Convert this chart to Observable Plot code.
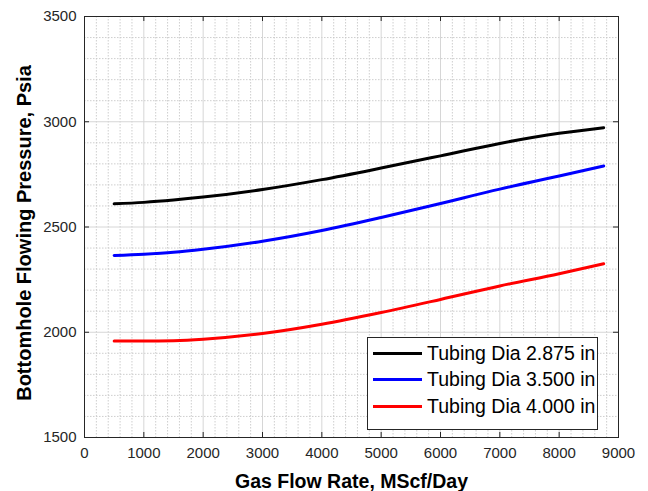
<!DOCTYPE html>
<html>
<head>
<meta charset="utf-8">
<script src="https://cdn.jsdelivr.net/npm/d3@7"></script>
<script src="https://cdn.jsdelivr.net/npm/@observablehq/plot@0.6"></script>
<style>
  body { margin: 0; background: #fff; }
  #wrap { position: relative; width: 648px; height: 491px; font-family: "Liberation Sans", Arial, sans-serif; }
  #legend { position: absolute; left: 367px; top: 337px; width: 231px; height: 93px; border: 1px solid #262626; background: #fff; box-sizing: border-box; }
  .item { position: absolute; left: 5px; height: 22px; display: flex; align-items: center; font-size: 19.5px; color: #000; white-space: nowrap; }
  .sw { width: 49px; height: 3px; margin-right: 5px; }
</style>
</head>
<body>
<div id="wrap"></div>
<script>
const seriesNames = ["Tubing Dia 2.875 in", "Tubing Dia 3.500 in", "Tubing Dia 4.000 in"];
const seriesColors = ["#000000", "#0000ff", "#ff0000"];
const flow = [500, 1000, 1500, 2000, 3000, 4000, 5000, 6000, 7000, 8000, 8750];
const p2875 = [2610, 2617, 2628, 2642, 2678, 2725, 2780, 2838, 2897, 2945, 2972];
const p3500 = [2365, 2371, 2380, 2394, 2432, 2483, 2545, 2612, 2680, 2742, 2790];
const p4000 = [1958, 1958, 1960, 1967, 1994, 2038, 2094, 2156, 2220, 2278, 2325];
const xTicks = [0, 1000, 2000, 3000, 4000, 5000, 6000, 7000, 8000, 9000];
const yTicks = [1500, 2000, 2500, 3000, 3500];
const xLabel = "Gas Flow Rate, MScf/Day";
const yLabel = "Bottomhole Flowing Pressure, Psia";
const xMinor = d3.range(0, 9001, 200).filter(v => v % 1000 !== 0);
const yMinor = d3.range(1500, 3501, 100).filter(v => v % 500 !== 0);

const allSeries = [p2875, p3500, p4000];
const rows = allSeries.flatMap((s, i) => s.map((p, j) => ({x: flow[j], y: p, series: seriesNames[i]})));

const W = 648, H = 491, mL = 84, mR = 30, mT = 16, mB = 54;
const plotH = H - mT - mB, plotW = W - mL - mR;
const tick = 5;

const chart = Plot.plot({
  width: W, height: H,
  marginLeft: mL, marginRight: mR, marginTop: mT, marginBottom: mB,
  style: {fontFamily: "Liberation Sans, Arial, sans-serif", background: "#fff"},
  x: {domain: [0, 9000]},
  y: {domain: [1500, 3500]},
  color: {domain: seriesNames, range: seriesColors},
  marks: [
    Plot.ruleX(xMinor, {x: d => d, stroke: "#c8c8c8", strokeDasharray: "1.5,1.5", strokeWidth: 0.9}),
    Plot.ruleY(yMinor, {y: d => d, stroke: "#c8c8c8", strokeDasharray: "1.5,1.5", strokeWidth: 0.9}),
    Plot.ruleX(xTicks, {x: d => d, stroke: "#d6d6d6", strokeWidth: 1}),
    Plot.ruleY(yTicks, {y: d => d, stroke: "#d6d6d6", strokeWidth: 1}),
    Plot.line(rows, {x: "x", y: "y", z: "series", stroke: "series", strokeWidth: 3, curve: "monotone-x"}),
    Plot.frame({stroke: "#262626", strokeWidth: 1}),
    Plot.tickX(xTicks, {x: d => d, stroke: "#262626", insetTop: plotH - tick}),
    Plot.tickX(xTicks, {x: d => d, stroke: "#262626", insetBottom: plotH - tick}),
    Plot.tickY(yTicks, {y: d => d, stroke: "#262626", insetRight: plotW - tick}),
    Plot.tickY(yTicks, {y: d => d, stroke: "#262626", insetLeft: plotW - tick}),
    Plot.axisX({ticks: xTicks, tickSize: 0, tickPadding: 10, fontSize: 15, color: "#262626", tickFormat: d => String(d), label: null}),
    Plot.axisY({ticks: yTicks, tickSize: 0, tickPadding: 8, fontSize: 15, color: "#262626", tickFormat: d => String(d), label: null}),
    Plot.text([xLabel], {text: d => d, frameAnchor: "bottom", lineAnchor: "bottom", dy: 50, fontSize: 19.5, fontWeight: "bold", fill: "#000"}),
    Plot.text([yLabel], {text: d => d, frameAnchor: "left", textAnchor: "middle", rotate: -90, lineAnchor: "middle", dx: -60, dy: 6, fontSize: 20, fontWeight: "bold", fill: "#000"})
  ]
});
document.getElementById("wrap").appendChild(chart);

const leg = document.createElement("div");
leg.id = "legend";
seriesNames.forEach((n, i) => {
  const it = document.createElement("div");
  it.className = "item";
  it.style.top = (4 + i * 26.5) + "px";
  it.innerHTML = `<span class="sw" style="background:${seriesColors[i]}"></span><span>${n}</span>`;
  leg.appendChild(it);
});
document.getElementById("wrap").appendChild(leg);
</script>
</body>
</html>
